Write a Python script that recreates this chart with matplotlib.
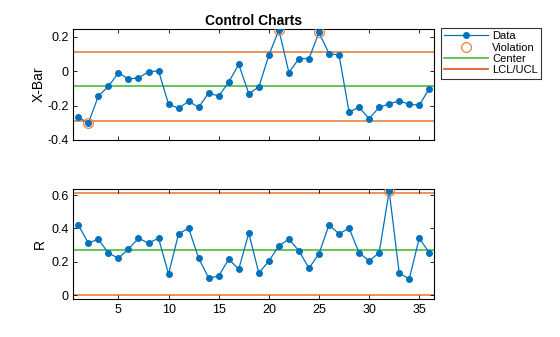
import numpy as np
import matplotlib.pyplot as plt
from matplotlib.lines import Line2D

samples = np.arange(1, 37)

xbar = [-0.267, -0.302, -0.145, -0.088, -0.010, -0.045, -0.039, -0.004, 0.002,
        -0.192, -0.216, -0.175, -0.210, -0.127, -0.145, -0.063, 0.039, -0.131,
        -0.092, 0.092, 0.240, -0.008, 0.073, 0.073, 0.225, 0.102, 0.094, -0.237,
        -0.210, -0.276, -0.210, -0.190, -0.173, -0.192, -0.198, -0.102]
xbar_center = -0.088
xbar_lcl = -0.288
xbar_ucl = 0.114

rng_vals = [0.421, 0.311, 0.335, 0.251, 0.221, 0.275, 0.341, 0.311, 0.341,
            0.126, 0.367, 0.401, 0.221, 0.102, 0.114, 0.215, 0.155, 0.371,
            0.132, 0.203, 0.295, 0.335, 0.265, 0.161, 0.247, 0.421, 0.367,
            0.401, 0.253, 0.205, 0.253, 0.624, 0.132, 0.096, 0.341, 0.253]
r_center = 0.269
r_lcl = 0.0
r_ucl = 0.612

blue = '#0072BD'
orange = '#E8823F'
green = '#4DBA3A'

fig = plt.figure(figsize=(5.6, 3.37), dpi=100)
plt.rcParams['font.family'] = 'Liberation Sans'

W, H = 560, 337
ax1 = fig.add_axes([73.3 / W, 1 - 140 / H, 361 / W, 111 / H])
ax2 = fig.add_axes([73.3 / W, 1 - 299 / H, 361 / W, 110 / H])


def draw(ax, vals, center, lcl, ucl):
    vals = np.array(vals)
    ax.axhline(ucl, color=orange, lw=1.2, zorder=1)
    ax.axhline(lcl, color=orange, lw=1.2, zorder=1)
    ax.axhline(center, color=green, lw=1.2, zorder=1)
    ax.plot(samples, vals, '-o', color=blue, lw=0.9, ms=4, zorder=3)
    bad = (vals > ucl) | (vals < lcl)
    ax.plot(samples[bad], vals[bad], 'o', mfc='none', mec=orange, ms=7, mew=0.9, zorder=4)
    ax.set_xlim(0.5, 36.5)
    ax.set_xticks([5, 10, 15, 20, 25, 30, 35])
    ax.tick_params(direction='in', top=True, right=True, labelsize=9, length=3, width=0.6)
    for s in ax.spines.values():
        s.set_linewidth(0.8)


draw(ax1, xbar, xbar_center, xbar_lcl, xbar_ucl)
ax1.set_ylim(-0.4, 0.245)
ax1.set_yticks([-0.4, -0.2, 0, 0.2])
ax1.set_yticklabels(['-0.4', '-0.2', '0', '0.2'])
ax1.set_xticklabels([])
ax1.set_ylabel('X-Bar', fontsize=10, labelpad=1)
ax1.set_title('Control Charts', fontsize=10, fontweight='bold', pad=3)

draw(ax2, rng_vals, r_center, r_lcl, r_ucl)
ax2.set_ylim(-0.024, 0.636)
ax2.set_yticks([0, 0.2, 0.4, 0.6])
ax2.set_yticklabels(['0', '0.2', '0.4', '0.6'])
ax2.set_ylabel('R', fontsize=10, labelpad=3)

handles = [
    Line2D([], [], color=blue, marker='o', ms=4, lw=0.9),
    Line2D([], [], ls='none', marker='o', mfc='none', mec=orange, ms=7, mew=0.9),
    Line2D([], [], color=green, lw=1.2),
    Line2D([], [], color='#D95319', lw=1.2),
]
leg = fig.legend(handles, ['Data', 'Violation', 'Center', 'LCL/UCL'],
                 loc='upper left', bbox_to_anchor=(441 / W, 1 - 28 / H),
                 fontsize=8, frameon=True, fancybox=False, edgecolor='black',
                 borderpad=0.3, labelspacing=0.12, handlelength=3.9, handletextpad=0.4,
                 borderaxespad=0)
leg.get_frame().set_linewidth(0.8)

fig.savefig('out.png', dpi=100)
